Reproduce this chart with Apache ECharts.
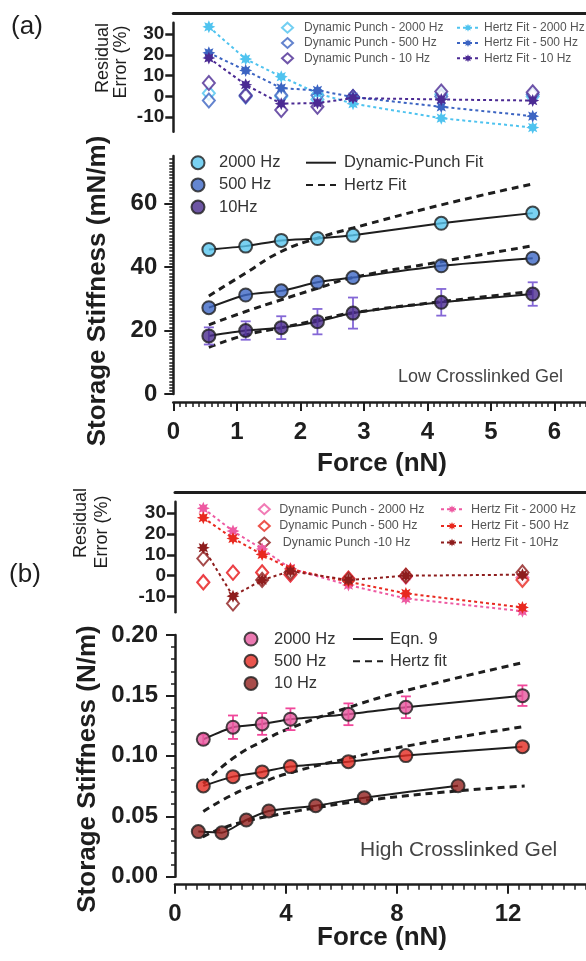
<!DOCTYPE html>
<html>
<head>
<meta charset="utf-8">
<script src="https://cdn.jsdelivr.net/npm/echarts@6/dist/echarts.min.js"></script>
<style>
  html, body { margin: 0; padding: 0; background: #fff; }
  #chart { width: 586px; height: 961px; }
</style>
</head>
<body>
<div id="chart"></div>
<script>
// ---------- (a) low crosslinked gel ----------
const forceA = [0.56, 1.14, 1.70, 2.27, 2.83, 4.22, 5.66];
const stiffA2000 = [45.5, 46.6, 48.4, 49.0, 50.0, 53.8, 57.0];
const stiffA500 = [27.2, 31.2, 32.5, 35.2, 36.7, 40.4, 42.8];
const stiffA10 = [18.3, 20.0, 20.9, 22.8, 25.5, 28.9, 31.5];
const errA10 = [2.7, 2.9, 3.6, 4.0, 4.9, 4.2, 3.7];
const hertzA2000 = [30.9, 38.1, 44.9, 49.1, 52.3, 59.6, 66.2];
const hertzA500 = [21.8, 26.0, 29.7, 33.3, 36.7, 41.7, 46.7];
const hertzA10 = [14.7, 18.6, 20.9, 23.3, 25.6, 29.1, 32.3];
// residual error (%)
const resA_dp2000 = [1.5, 0.5, 0, -1.5, -0.5, 1, 0];
const resA_dp500 = [-2, 0, 0.5, 0.5, -0.3, 0, 1];
const resA_dp10 = [6.5, 0.5, -6.5, -5, -0.3, 2.4, 2];
const resA_hz2000 = [33.5, 18, 9.5, 1.5, -3.5, -10.5, -15];
const resA_hz500 = [21, 12.5, 4, 2.9, -0.3, -5, -9.5];
const resA_hz10 = [18.5, 5.6, -3.5, -3.2, -0.8, -1.5, -2];

// ---------- (b) high crosslinked gel ----------
const forceB = [1.02, 2.09, 3.14, 4.16, 6.25, 8.32, 12.52];
const forceB10 = [0.84, 1.69, 2.57, 3.38, 5.07, 6.82, 10.2];
const stiffB2000 = [0.1137, 0.1237, 0.1264, 0.1303, 0.1344, 0.1402, 0.1498];
const errB2000 = [0.004, 0.0097, 0.009, 0.009, 0.009, 0.009, 0.0085];
const stiffB500 = [0.0751, 0.0828, 0.0867, 0.0911, 0.0952, 0.1002, 0.1076];
const stiffB10 = [0.0373, 0.0364, 0.0469, 0.0544, 0.0588, 0.0654, 0.0753];
const hertzB2000 = [0.077, 0.098, 0.112, 0.123, 0.140, 0.154, 0.177];
const hertzB500 = [0.054, 0.068, 0.078, 0.086, 0.098, 0.108, 0.124];
const hertzB10Force = [1.0, 1.69, 2.57, 3.38, 5.07, 6.82, 10.2, 12.6];
const hertzB10 = [0.033, 0.040, 0.046, 0.050, 0.057, 0.063, 0.071, 0.075];
const resB_dp2000 = [-3, 1.5, 1.5, 0.5, -1.5, -0.5, -1];
const resB_dp500 = [-3.2, 1.4, 1.6, 0.6, -1.3, 0, -2];
const resB_dp10 = [8.3, -13.3, -2, 1.6, -2, 0, 1.6];
const resB_hz2000 = [32.3, 21.4, 12.8, 3.5, -4.5, -10.9, -17];
const resB_hz500 = [27.8, 17.9, 10.2, 3.2, -2.9, -8.5, -15.2];
const resB_hz10 = [13.4, -9.8, -2.1, 2.2, -2.1, 0, 0.5];

const resTicks = [-10, 0, 10, 20, 30];

const FF = '"Liberation Sans", Arial, Helvetica, sans-serif';
const INK = '#1e1e1e';
const STAR = 'path://M10 0L5 2.07L7.07 7.07L2.07 5L0 10L-2.07 5L-7.07 7.07L-5 2.07L-10 0L-5 -2.07L-7.07 -7.07L-2.07 -5L0 -10L2.07 -5L7.07 -7.07L5 -2.07Z';

const zip = (xs, ys) => xs.map((x, i) => [x, ys[i]]);
const plain = (n) => n.replace('\u200b', '');

function mainX(grid, max, interval, minorSplit) {
  return {
    gridIndex: grid, type: 'value', min: 0, max: max, interval: interval,
    position: 'bottom', offset: 8,
    axisLine: { show: true, onZero: false, lineStyle: { color: INK, width: 2.5 } },
    axisTick: { show: true, length: 9, lineStyle: { color: INK, width: 2 } },
    minorTick: { show: true, splitNumber: minorSplit, length: 5, lineStyle: { color: INK, width: 1.5 } },
    splitLine: { show: false },
    axisLabel: { margin: 18, fontSize: 24, fontWeight: 'bold', color: INK, fontFamily: FF }
  };
}
function resX(grid, max) {
  return {
    gridIndex: grid, type: 'value', min: 0, max: max, position: 'top', offset: 9.5,
    axisLine: { show: true, onZero: false, lineStyle: { color: INK, width: 3 } },
    axisTick: { show: false }, axisLabel: { show: false }, splitLine: { show: false }
  };
}
function resY(grid, min) {
  return {
    gridIndex: grid, type: 'value', min: min, max: 35.5,
    axisLine: { show: true, onZero: false, lineStyle: { color: INK, width: 2.5 } },
    axisTick: { show: true, customValues: resTicks, length: 8, lineStyle: { color: INK, width: 2.5 } },
    axisLabel: { customValues: resTicks, margin: 9, fontSize: 19, fontWeight: 'bold', color: INK, fontFamily: FF },
    splitLine: { show: false }
  };
}

function fit(name, xs, ys, xi, dashed, smooth) {
  return {
    name: name, type: 'line', xAxisIndex: xi, yAxisIndex: xi, data: zip(xs, ys),
    symbol: 'none', smooth: smooth, z: 2, color: INK,
    lineStyle: dashed ? { color: INK, width: 3, type: [7, 5] } : { color: INK, width: 2 }
  };
}
function dots(name, xs, ys, xi, color) {
  return {
    name: name, type: 'scatter', xAxisIndex: xi, yAxisIndex: xi, data: zip(xs, ys),
    symbol: 'circle', symbolSize: 13, z: 5, color: color,
    itemStyle: { color: color, borderColor: INK, borderWidth: 2 }
  };
}
function diamonds(name, xs, ys, xi, color) {
  return {
    name: name, type: 'scatter', xAxisIndex: xi, yAxisIndex: xi, data: zip(xs, ys),
    symbol: 'emptyDiamond', symbolSize: [12, 14], z: 3, color: color,
    itemStyle: { color: color, borderWidth: 2 }
  };
}
function stars(name, xs, ys, xi, color) {
  return {
    name: name, type: 'line', xAxisIndex: xi, yAxisIndex: xi, data: zip(xs, ys),
    symbol: STAR, symbolSize: 13, showAllSymbol: true, z: 4, color: color,
    itemStyle: { color: color },
    lineStyle: { color: color, width: 2, type: [3, 3] }
  };
}
function errorBars(xs, ys, errs, xi, color) {
  return {
    type: 'custom', xAxisIndex: xi, yAxisIndex: xi, z: 3,
    data: xs.map((x, i) => [x, ys[i] - errs[i], ys[i] + errs[i]]),
    encode: { x: 0, y: [1, 2] },
    renderItem: function (params, api) {
      const lo = api.coord([api.value(0), api.value(1)]);
      const hi = api.coord([api.value(0), api.value(2)]);
      const w = 5;
      const st = { stroke: color, lineWidth: 1.8 };
      return {
        type: 'group', children: [
          { type: 'line', shape: { x1: lo[0], y1: lo[1], x2: hi[0], y2: hi[1] }, style: st },
          { type: 'line', shape: { x1: lo[0] - w, y1: lo[1], x2: lo[0] + w, y2: lo[1] }, style: st },
          { type: 'line', shape: { x1: hi[0] - w, y1: hi[1], x2: hi[0] + w, y2: hi[1] }, style: st }
        ]
      };
    }
  };
}
function legend(names, left, top, o) {
  const lg = {
    data: names, left: left, top: top, orient: 'vertical', padding: 0, selectedMode: false,
    itemWidth: o.w, itemHeight: o.h, itemGap: o.gap,
    formatter: plain,
    textStyle: { fontSize: o.fs, lineHeight: o.h, color: o.color || '#333', fontFamily: FF, padding: [0, 0, 0, o.pad] }
  };
  // line-only entries: hide the default symbol drawn in the middle of the icon
  if (o.lineOnly) lg.itemStyle = { color: 'rgba(0,0,0,0)', borderWidth: 0, opacity: 0 };
  return lg;
}
function txt(x, y, text, size, weight, rotate, align, color) {
  return {
    type: 'text', x: x, y: y, rotation: rotate ? Math.PI / 2 : 0,
    style: { text: text, fontSize: size, fontWeight: weight, fontFamily: FF, fill: color || INK,
             align: align || 'center', verticalAlign: 'middle' }
  };
}

const cA = { hz2000: '#4fc3ef', hz500: '#3c64c2', hz10: '#4b2a93', m2000: '#57c6ef', m500: '#3d68c5', m10: '#4a2c8d', err: '#8467d6' };
const cB = { hz2000: '#ee5aa2', hz500: '#e8291f', hz10: '#8e1d1d', m2000: '#e6579e', m500: '#e42a22', m10: '#92201e', err: '#f0479a' };

const chart = echarts.init(document.getElementById('chart'));
chart.setOption({
  animation: false,
  backgroundColor: '#fff',
  grid: [
    { left: 173.3, right: -31.8, top: 22.7, height: 109, outerBoundsMode: 'none', containLabel: false },
    { left: 173.3, right: -31.8, top: 156, height: 238, outerBoundsMode: 'none', containLabel: false },
    { left: 175, right: -33, top: 501.7, height: 110.5, outerBoundsMode: 'none', containLabel: false },
    { left: 175, right: -33, top: 635, height: 241.7, outerBoundsMode: 'none', containLabel: false }
  ],
  xAxis: [
    resX(0, 7),
    mainX(1, 7, 1, 10),
    resX(2, 16),
    mainX(3, 16, 4, 10)
  ],
  yAxis: [
    resY(0, -17),
    {
      gridIndex: 1, type: 'value', min: 0, max: 75, interval: 20,
      axisLine: { show: true, onZero: false, lineStyle: { color: INK, width: 2.5 } },
      axisTick: { show: true, customValues: [0, 20, 40, 60], length: 9, lineStyle: { color: INK, width: 2 } },
      minorTick: { show: true, splitNumber: 20, length: 4, lineStyle: { color: INK, width: 1.5 } },
      axisLabel: { customValues: [0, 20, 40, 60], margin: 16, fontSize: 24, fontWeight: 'bold', color: INK, fontFamily: FF },
      splitLine: { show: false }
    },
    resY(2, -17.5),
    {
      gridIndex: 3, type: 'value', min: 0, max: 0.2, interval: 0.05,
      axisLine: { show: true, onZero: false, lineStyle: { color: INK, width: 2.5 } },
      axisTick: { show: true, length: 9, lineStyle: { color: INK, width: 2 } },
      minorTick: { show: true, splitNumber: 5, length: 4, lineStyle: { color: INK, width: 1.5 } },
      axisLabel: { margin: 17, fontSize: 24, fontWeight: 'bold', color: INK, fontFamily: FF,
                   formatter: (v) => v.toFixed(2) },
      splitLine: { show: false }
    }
  ],
  legend: [
    legend(['Dynamic Punch - 2000 Hz', 'Dynamic Punch - 500 Hz', 'Dynamic Punch - 10 Hz'], 281, 21.7,
           { w: 11, h: 10, gap: 3.3, fs: 12, pad: 6, color: '#555' }),
    legend(['Hertz Fit - 2000 Hz', 'Hertz Fit - 500 Hz', 'Hertz Fit - 10 Hz'], 456, 21.7,
           { w: 22, h: 10, gap: 3.3, fs: 12, pad: 0, color: '#555' }),
    legend([{ name: '2000 Hz', icon: 'circle' }, { name: '500 Hz', icon: 'circle' }, { name: '10Hz', icon: 'circle' }], 190.5, 154.2,
           { w: 13, h: 13, gap: 5.2, fs: 16.5, pad: 9.5 }),
    legend(['Dynamic-Punch Fit', 'Hertz Fit'], 305, 154.2, { w: 30, h: 13, gap: 5.3, fs: 16.5, pad: 3, lineOnly: true }),
    legend(['Dynamic Punch - 2000 Hz\u200b', 'Dynamic Punch - 500 Hz\u200b', ' Dynamic Punch -10 Hz'], 257.8, 502.7,
           { w: 11, h: 10, gap: 3.7, fs: 12.5, pad: 4.5, color: '#555' }),
    legend(['Hertz Fit - 2000 Hz\u200b', 'Hertz Fit - 500 Hz\u200b', 'Hertz Fit - 10Hz'], 440, 502.7,
           { w: 22, h: 10, gap: 3.7, fs: 12.5, pad: 3, color: '#555' }),
    legend([{ name: '2000 Hz\u200b', icon: 'circle' }, { name: '500 Hz\u200b', icon: 'circle' }, { name: '10 Hz', icon: 'circle' }], 243.5, 630.5,
           { w: 13, h: 13, gap: 5.2, fs: 16.5, pad: 11.5 }),
    legend(['Eqn. 9', 'Hertz fit'], 352, 630.5, { w: 30, h: 13, gap: 5.3, fs: 16.5, pad: 2, lineOnly: true })
  ],
  graphic: [
    txt(27, 27, '(a)', 26, 'normal'),
    txt(25, 575, '(b)', 26, 'normal'),
    txt(103, 58, 'Residual', 18, 'normal', true),
    txt(121, 62, 'Error (%)', 18, 'normal', true),
    txt(81, 523, 'Residual', 18, 'normal', true),
    txt(102.5, 532, 'Error (%)', 18, 'normal', true),
    txt(98, 291, 'Storage Stiffness (mN/m)', 26, 'bold', true),
    txt(88, 769, 'Storage Stiffness (N/m)', 26, 'bold', true),
    txt(382, 464, 'Force (nN)', 26, 'bold'),
    txt(382, 937.5, 'Force (nN)', 26, 'bold'),
    txt(398, 377, 'Low Crosslinked Gel', 18, 'normal', false, 'left', '#444'),
    txt(360, 850, 'High Crosslinked Gel', 21, 'normal', false, 'left', '#444')
  ],
  series: [
    // (a) residuals
    diamonds('Dynamic Punch - 2000 Hz', forceA, resA_dp2000, 0, cA.hz2000),
    diamonds('Dynamic Punch - 500 Hz', forceA, resA_dp500, 0, cA.hz500),
    diamonds('Dynamic Punch - 10 Hz', forceA, resA_dp10, 0, cA.hz10),
    stars('Hertz Fit - 2000 Hz', forceA, resA_hz2000, 0, cA.hz2000),
    stars('Hertz Fit - 500 Hz', forceA, resA_hz500, 0, cA.hz500),
    stars('Hertz Fit - 10 Hz', forceA, resA_hz10, 0, cA.hz10),
    // (a) stiffness
    fit('Dynamic-Punch Fit', forceA, stiffA2000, 1, false, 0.2),
    fit('Dynamic-Punch Fit', forceA, stiffA500, 1, false, 0.2),
    fit('Dynamic-Punch Fit', forceA, stiffA10, 1, false, 0.2),
    fit('Hertz Fit', forceA, hertzA2000, 1, true, true),
    fit('Hertz Fit', forceA, hertzA500, 1, true, true),
    fit('Hertz Fit', forceA, hertzA10, 1, true, true),
    errorBars(forceA, stiffA10, errA10, 1, cA.err),
    dots('2000 Hz', forceA, stiffA2000, 1, cA.m2000),
    dots('500 Hz', forceA, stiffA500, 1, cA.m500),
    dots('10Hz', forceA, stiffA10, 1, cA.m10),
    // (b) residuals
    diamonds('Dynamic Punch - 2000 Hz\u200b', forceB, resB_dp2000, 2, cB.hz2000),
    diamonds('Dynamic Punch - 500 Hz\u200b', forceB, resB_dp500, 2, cB.hz500),
    diamonds(' Dynamic Punch -10 Hz', forceB, resB_dp10, 2, cB.hz10),
    stars('Hertz Fit - 2000 Hz\u200b', forceB, resB_hz2000, 2, cB.hz2000),
    stars('Hertz Fit - 500 Hz\u200b', forceB, resB_hz500, 2, cB.hz500),
    stars('Hertz Fit - 10Hz', forceB, resB_hz10, 2, cB.hz10),
    // (b) stiffness
    fit('Eqn. 9', forceB, stiffB2000, 3, false, 0.2),
    fit('Eqn. 9', forceB, stiffB500, 3, false, 0.2),
    fit('Eqn. 9', forceB10, stiffB10, 3, false, 0.2),
    fit('Hertz fit', forceB, hertzB2000, 3, true, true),
    fit('Hertz fit', forceB, hertzB500, 3, true, true),
    fit('Hertz fit', hertzB10Force, hertzB10, 3, true, true),
    errorBars(forceB, stiffB2000, errB2000, 3, cB.err),
    dots('2000 Hz\u200b', forceB, stiffB2000, 3, cB.m2000),
    dots('500 Hz\u200b', forceB, stiffB500, 3, cB.m500),
    dots('10 Hz', forceB10, stiffB10, 3, cB.m10)
  ]
});
window.addEventListener('resize', function () { chart.resize(); });
</script>
</body>
</html>
